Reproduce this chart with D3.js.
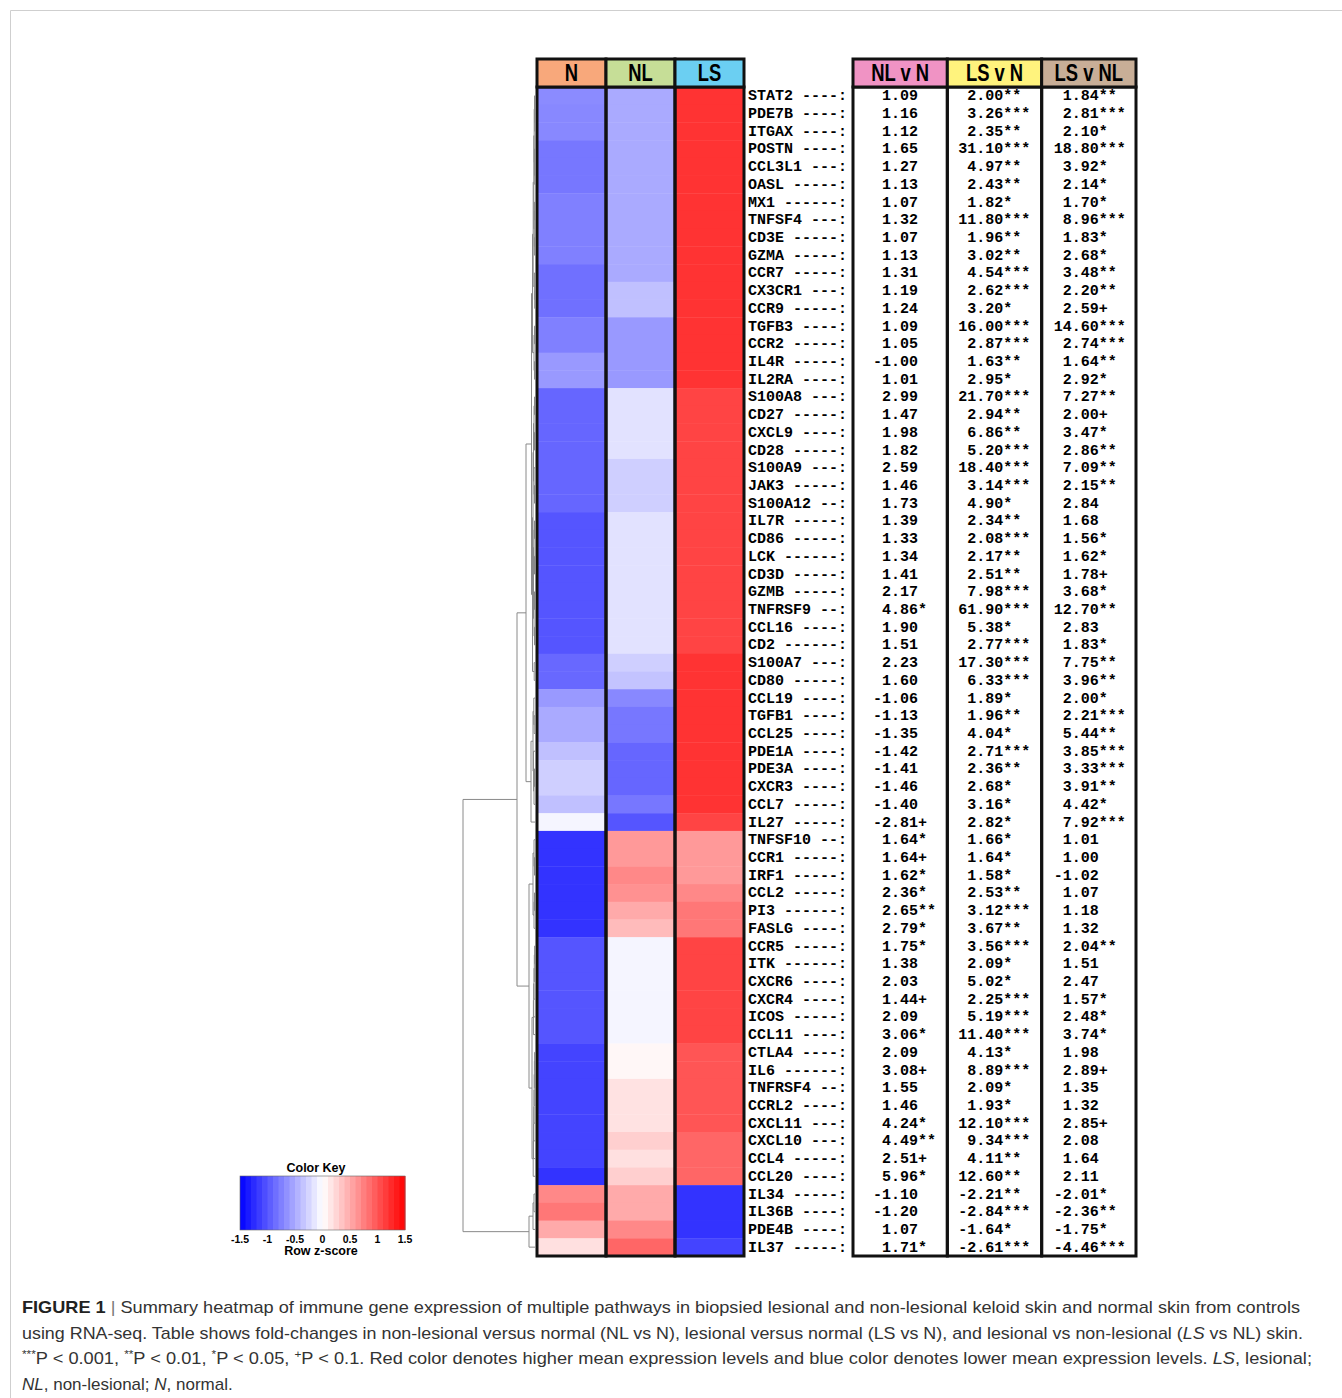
<!DOCTYPE html>
<html>
<head>
<meta charset="utf-8">
<script src="https://cdnjs.cloudflare.com/ajax/libs/d3/7.8.5/d3.min.js"></script>
<style>
  body { margin: 0; background: #fff; }
</style>
</head>
<body>
<div id="chart"></div>
<script>
// Genes, top to bottom
let genes = ["STAT2","PDE7B","ITGAX","POSTN","CCL3L1","OASL","MX1","TNFSF4","CD3E","GZMA",
  "CCR7","CX3CR1","CCR9","TGFB3","CCR2","IL4R","IL2RA","S100A8","CD27","CXCL9",
  "CD28","S100A9","JAK3","S100A12","IL7R","CD86","LCK","CD3D","GZMB","TNFRSF9",
  "CCL16","CD2","S100A7","CD80","CCL19","TGFB1","CCL25","PDE1A","PDE3A","CXCR3",
  "CCL7","IL27","TNFSF10","CCR1","IRF1","CCL2","PI3","FASLG","CCR5","ITK",
  "CXCR6","CXCR4","ICOS","CCL11","CTLA4","IL6","TNFRSF4","CCRL2","CXCL11","CXCL10",
  "CCL4","CCL20","IL34","IL36B","PDE4B","IL37"];

let groups = ["N", "NL", "LS"];
let comparisons = ["NL v N", "LS v N", "LS v NL"];

// Row z-scores
let zN = [-0.68,-0.7,-0.7,-0.8,-0.8,-0.8,-0.75,-0.75,-0.75,-0.75,
  -0.84,-0.84,-0.84,-0.75,-0.75,-0.6,-0.6,-0.9,-0.9,-0.9,
  -0.9,-0.9,-0.9,-0.9,-1.0,-1.0,-1.0,-1.0,-1.0,-1.0,
  -1.0,-1.0,-0.89,-0.89,-0.6,-0.5,-0.5,-0.37,-0.28,-0.28,
  -0.37,-0.06,-1.2,-1.2,-1.2,-1.2,-1.2,-1.2,-1.0,-1.0,
  -1.0,-1.0,-1.0,-1.0,-1.1,-1.1,-1.1,-1.1,-1.1,-1.1,
  -1.1,-1.2,0.7,0.8,0.5,0.18];
let zNL = [-0.5,-0.5,-0.5,-0.5,-0.5,-0.5,-0.5,-0.5,-0.5,-0.5,
  -0.5,-0.37,-0.37,-0.6,-0.6,-0.6,-0.6,-0.17,-0.17,-0.17,
  -0.17,-0.28,-0.28,-0.28,-0.17,-0.17,-0.17,-0.17,-0.17,-0.17,
  -0.17,-0.17,-0.28,-0.35,-0.7,-0.8,-0.8,-0.9,-0.9,-0.9,
  -0.8,-1.0,0.6,0.6,0.7,0.65,0.5,0.4,-0.06,-0.06,
  -0.06,-0.06,-0.06,-0.06,0.05,0.05,0.17,0.17,0.17,0.28,
  0.18,0.28,0.5,0.5,0.7,0.9];
let zLS = [1.2,1.2,1.2,1.2,1.2,1.2,1.2,1.2,1.2,1.2,
  1.2,1.2,1.2,1.2,1.2,1.2,1.2,1.1,1.1,1.1,
  1.1,1.1,1.1,1.1,1.1,1.1,1.1,1.1,1.1,1.1,
  1.1,1.1,1.2,1.2,1.2,1.2,1.2,1.2,1.2,1.2,
  1.2,1.1,0.6,0.6,0.6,0.7,0.8,0.8,1.1,1.1,
  1.1,1.1,1.1,1.1,1.0,1.0,1.0,1.0,1.0,0.9,
  0.9,0.9,-1.2,-1.2,-1.2,-1.1];

// Fold changes with significance marks
let fcNLvN = ["1.09","1.16","1.12","1.65","1.27","1.13","1.07","1.32","1.07","1.13",
  "1.31","1.19","1.24","1.09","1.05","-1.00","1.01","2.99","1.47","1.98",
  "1.82","2.59","1.46","1.73","1.39","1.33","1.34","1.41","2.17","4.86*",
  "1.90","1.51","2.23","1.60","-1.06","-1.13","-1.35","-1.42","-1.41","-1.46",
  "-1.40","-2.81+","1.64*","1.64+","1.62*","2.36*","2.65**","2.79*","1.75*","1.38",
  "2.03","1.44+","2.09","3.06*","2.09","3.08+","1.55","1.46","4.24*","4.49**",
  "2.51+","5.96*","-1.10","-1.20","1.07","1.71*"];
let fcLSvN = ["2.00**","3.26***","2.35**","31.10***","4.97**","2.43**","1.82*","11.80***","1.96**","3.02**",
  "4.54***","2.62***","3.20*","16.00***","2.87***","1.63**","2.95*","21.70***","2.94**","6.86**",
  "5.20***","18.40***","3.14***","4.90*","2.34**","2.08***","2.17**","2.51**","7.98***","61.90***",
  "5.38*","2.77***","17.30***","6.33***","1.89*","1.96**","4.04*","2.71***","2.36**","2.68*",
  "3.16*","2.82*","1.66*","1.64*","1.58*","2.53**","3.12***","3.67**","3.56***","2.09*",
  "5.02*","2.25***","5.19***","11.40***","4.13*","8.89***","2.09*","1.93*","12.10***","9.34***",
  "4.11**","12.60**","-2.21**","-2.84***","-1.64*","-2.61***"];
let fcLSvNL = ["1.84**","2.81***","2.10*","18.80***","3.92*","2.14*","1.70*","8.96***","1.83*","2.68*",
  "3.48**","2.20**","2.59+","14.60***","2.74***","1.64**","2.92*","7.27**","2.00+","3.47*",
  "2.86**","7.09**","2.15**","2.84","1.68","1.56*","1.62*","1.78+","3.68*","12.70**",
  "2.83","1.83*","7.75**","3.96**","2.00*","2.21***","5.44**","3.85***","3.33***","3.91**",
  "4.42*","7.92***","1.01","1.00","-1.02","1.07","1.18","1.32","2.04**","1.51",
  "2.47","1.57*","2.48*","3.74*","1.98","2.89+","1.35","1.32","2.85+","2.08",
  "1.64","2.11","-2.01*","-2.36**","-1.75*","-4.46***"];

// Row dendrogram: [merge height, left, right], leaves are row indices
let dendro = [72,
  [18,
    [9,
      [3.5,
        [2.5,
          [1.8,
            [1.2, [0.8, [0.5, 0, [0.3, 1, 2]], [0.5, 3, [0.3, 4, 5]]], [0.7, [0.4, 6, 7], [0.4, 8, 9]]],
            [0.6, 10, [0.3, 11, 12]]],
          [1, [0.5, 13, 14], [0.5, 15, 16]]],
        [2.5,
          [2,
            [1.5, [1, [0.5, 17, 18], [0.5, 19, 20]], [1, 21, [0.5, 22, 23]]],
            [1.5, [1, [0.5, 24, 25], [0.5, 26, 27]], [1, [0.5, 28, 29], [0.5, 30, 31]]]],
          [0.8, 32, 33]]],
      [4, [2, [1.2, 34, [0.8, 35, 36]], [1.5, 37, [1, [0.5, 38, 39], 40]]], 41]],
    [6,
      [2, [1, 42, [0.5, 43, 44]], [1, [0.5, 45, 46], 47]],
      [3,
        [1.6, [1.3, [1, [0.7, [0.4, 48, 49], 50], 51], 52], 53],
        [1.8, [1.5, [1.2, [1, [0.8, [0.6, [0.4, 54, 55], 56], 57], 58], 59], 60], 61]]]],
  [6, [2, [1, 62, 63], 64], 65]];

let keyTicks = [-1.5, -1, -0.5, 0, 0.5, 1, 1.5];

let groupColors = ["#f8a87b", "#c6de97", "#6bcff2"];
let compColors = ["#f093c4", "#fff37d", "#c8ae97"];

// Setting the SVG size
let svgWidth = 1342;
let svgHeight = 1398;

let svg = d3.select("#chart")
  .append("svg")
  .attr("width", svgWidth)
  .attr("height", svgHeight)
  .style("font-family", "'Liberation Sans', Arial, sans-serif");

// light frame round the figure
svg.append("path")
  .attr("d", "M10.5,1398 V10.5 H1342")
  .attr("fill", "none")
  .attr("stroke", "#cfcfcf");

// Scales
let rowTop = 87, rowBottom = 1256;
let yScale = d3.scaleBand()
  .domain(genes)
  .range([rowTop, rowBottom]);

let xScale = d3.scaleBand()
  .domain(groups)
  .range([537, 744]);

let tScale = d3.scaleBand()
  .domain(comparisons)
  .range([853, 1136]);

let color = d3.scaleLinear()
  .domain([-1.5, 0, 1.5])
  .range(["#0000ff", "#ffffff", "#ff0000"])
  .clamp(true);

// Heatmap cells
let zByGroup = [zN, zNL, zLS];
let cells = [];
groups.forEach((g, gi) => {
  genes.forEach((gene, i) => cells.push({ gene: gene, group: g, z: zByGroup[gi][i] }));
});

let heat = svg.append("g");
heat.selectAll("rect.cell")
  .data(cells)
  .enter()
  .append("rect")
  .attr("class", "cell")
  .attr("x", d => xScale(d.group))
  .attr("y", d => yScale(d.gene))
  .attr("width", xScale.bandwidth())
  .attr("height", yScale.bandwidth() + 0.4)
  .attr("fill", d => color(d.z));

// column frames
heat.selectAll("rect.frame")
  .data(groups)
  .enter()
  .append("rect")
  .attr("class", "frame")
  .attr("x", d => xScale(d))
  .attr("y", rowTop)
  .attr("width", xScale.bandwidth())
  .attr("height", rowBottom - rowTop)
  .attr("fill", "none")
  .attr("stroke", "#111")
  .attr("stroke-width", 3);

// header label style (bold, condensed)
function headerText(sel, xFn) {
  sel.attr("text-anchor", "middle")
    .attr("transform", d => `translate(${xFn(d)},81) scale(0.8,1)`)
    .style("font-family", "'Liberation Sans Narrow', 'Liberation Sans', Arial, sans-serif")
    .style("font-weight", "bold")
    .style("font-size", "23px")
    .text(d => d);
}

// group headers
let headTop = 59;
heat.selectAll("rect.head")
  .data(groups)
  .enter()
  .append("rect")
  .attr("class", "head")
  .attr("x", d => xScale(d))
  .attr("y", headTop)
  .attr("width", xScale.bandwidth())
  .attr("height", rowTop - headTop)
  .attr("fill", (d, i) => groupColors[i])
  .attr("stroke", "#111")
  .attr("stroke-width", 3);

heat.selectAll("text.head")
  .data(groups)
  .enter()
  .append("text")
  .attr("class", "head")
  .call(headerText, d => xScale(d) + xScale.bandwidth() / 2);

// Dendrogram
function buildNode(a) {
  if (Array.isArray(a)) {
    return { h: a[0], children: [buildNode(a[1]), buildNode(a[2])] };
  }
  return { h: 0, leaf: a };
}

let hScale = d3.scaleLinear()
  .domain([0, 72])
  .range([535, 463]);

let root = d3.hierarchy(buildNode(dendro));
root.eachAfter(n => {
  n.yPos = n.children
    ? d3.mean(n.children, c => c.yPos)
    : yScale(genes[n.data.leaf]) + yScale.bandwidth() / 2;
});

let segs = [];
root.each(n => {
  if (!n.children) return;
  let x = hScale(n.data.h);
  segs.push([[x, n.children[0].yPos], [x, n.children[1].yPos]]);
  n.children.forEach(c => segs.push([[x, c.yPos], [hScale(c.data.h), c.yPos]]));
});

svg.append("g")
  .selectAll("path")
  .data(segs)
  .enter()
  .append("path")
  .attr("d", d3.line())
  .attr("fill", "none")
  .attr("stroke", "#8a8a8a")
  .attr("stroke-width", 1);

// Table: gene labels
let mono = "'Liberation Mono', 'Courier New', monospace";
let table = svg.append("g")
  .style("font-family", mono)
  .style("font-weight", "bold")
  .style("font-size", "15px");

table.selectAll("text.label")
  .data(genes)
  .enter()
  .append("text")
  .attr("class", "label")
  .attr("x", 748)
  .attr("y", d => yScale(d) + yScale.bandwidth() / 2 + 4.5)
  .text(d => d + " " + "-".repeat(Math.max(1, 9 - d.length)) + ":");

// fold-change values
let fcCols = [fcNLvN, fcLSvN, fcLSvNL];
let colOffset = [20, 11, 12];
let fcCells = [];
comparisons.forEach((c, ci) => {
  genes.forEach((gene, i) => fcCells.push({ gene: gene, comp: c, ci: ci, v: fcCols[ci][i] }));
});

table.selectAll("text.fc")
  .data(fcCells)
  .enter()
  .append("text")
  .attr("class", "fc")
  .attr("x", d => tScale(d.comp) + colOffset[d.ci])
  .attr("y", d => yScale(d.gene) + yScale.bandwidth() / 2 + 4.5)
  .style("white-space", "pre")
  .text(d => {
    let num = d.v.replace(/[*+]+$/, "");
    let marks = d.v.slice(num.length);
    return num.padStart(5, " ") + marks;
  });

table.selectAll("rect.tframe")
  .data(comparisons)
  .enter()
  .append("rect")
  .attr("class", "tframe")
  .attr("x", d => tScale(d))
  .attr("y", rowTop)
  .attr("width", tScale.bandwidth())
  .attr("height", rowBottom - rowTop)
  .attr("fill", "none")
  .attr("stroke", "#111")
  .attr("stroke-width", 3);

svg.selectAll("rect.thead")
  .data(comparisons)
  .enter()
  .append("rect")
  .attr("class", "thead")
  .attr("x", d => tScale(d))
  .attr("y", headTop)
  .attr("width", tScale.bandwidth())
  .attr("height", rowTop - headTop)
  .attr("fill", (d, i) => compColors[i])
  .attr("stroke", "#111")
  .attr("stroke-width", 3);

svg.selectAll("text.thead")
  .data(comparisons)
  .enter()
  .append("text")
  .attr("class", "thead")
  .call(headerText, d => tScale(d) + tScale.bandwidth() / 2);

// Color key
let keyScale = d3.scaleLinear()
  .domain([-1.5, 1.5])
  .range([240, 405]);
let nBins = 30;
let binEdges = d3.range(nBins + 1).map(i => -1.5 + 3 * i / nBins);

let key = svg.append("g");
key.selectAll("rect")
  .data(binEdges.slice(0, -1))
  .enter()
  .append("rect")
  .attr("x", d => keyScale(d))
  .attr("y", 1176)
  .attr("width", keyScale(-1.5 + 3 / nBins) - keyScale(-1.5) + 0.5)
  .attr("height", 54)
  .attr("fill", d => color(d + 1.5 / nBins));

key.append("rect")
  .attr("x", 240)
  .attr("y", 1176)
  .attr("width", 165)
  .attr("height", 54)
  .attr("fill", "none")
  .attr("stroke", "#666")
  .attr("stroke-width", 0.6);

key.append("text")
  .attr("x", 316)
  .attr("y", 1172)
  .attr("text-anchor", "middle")
  .style("font-weight", "bold")
  .style("font-size", "12.5px")
  .text("Color Key");

key.selectAll("text.tick")
  .data(keyTicks)
  .enter()
  .append("text")
  .attr("class", "tick")
  .attr("x", d => keyScale(d))
  .attr("y", 1243)
  .attr("text-anchor", "middle")
  .style("font-weight", "bold")
  .style("font-size", "10.5px")
  .text(d => d);

key.append("text")
  .attr("x", 321)
  .attr("y", 1255)
  .attr("text-anchor", "middle")
  .style("font-weight", "bold")
  .style("font-size", "12.5px")
  .text("Row z-score");

// Caption
let captionLines = [
  { y: 1313, len: 1278, parts: [["FIGURE 1", "b"], [" | ", "bar"], ["Summary heatmap of immune gene expression of multiple pathways in biopsied lesional and non-lesional keloid skin and normal skin from controls", ""]] },
  { y: 1339, len: 1281, parts: [["using RNA-seq. Table shows fold-changes in non-lesional versus normal (NL vs N), lesional versus normal (LS vs N), and lesional vs non-lesional (", ""], ["LS", "i"], [" vs NL) skin.", ""]] },
  { y: 1364, len: 1290, parts: [["***", "sup"], ["P < 0.001, ", ""], ["**", "sup"], ["P < 0.01, ", ""], ["*", "sup"], ["P < 0.05, ", ""], ["+", "sup"], ["P < 0.1. Red color denotes higher mean expression levels and blue color denotes lower mean expression levels. ", ""], ["LS", "i"], [", lesional;", ""]] },
  { y: 1390, len: null, parts: [["NL", "i"], [", non-lesional; ", ""], ["N", "i"], [", normal.", ""]] }
];

let caption = svg.append("g")
  .style("font-family", "'Liberation Sans', Arial, sans-serif")
  .style("font-size", "17px")
  .attr("fill", "#333");

captionLines.forEach(line => {
  let t = caption.append("text")
    .attr("x", 22)
    .attr("y", line.y)
    .style("white-space", "pre");
  if (line.len) {
    t.attr("textLength", line.len).attr("lengthAdjust", "spacingAndGlyphs");
  }
  line.parts.forEach(p => {
    let s = t.append("tspan").text(p[0]);
    if (p[1] === "b") s.style("font-weight", "bold").attr("fill", "#222");
    if (p[1] === "i") s.style("font-style", "italic");
    if (p[1] === "bar") s.attr("fill", "#777");
    if (p[1] === "sup") s.attr("baseline-shift", "super").style("font-size", "11px");
  });
});
</script>
</body>
</html>
